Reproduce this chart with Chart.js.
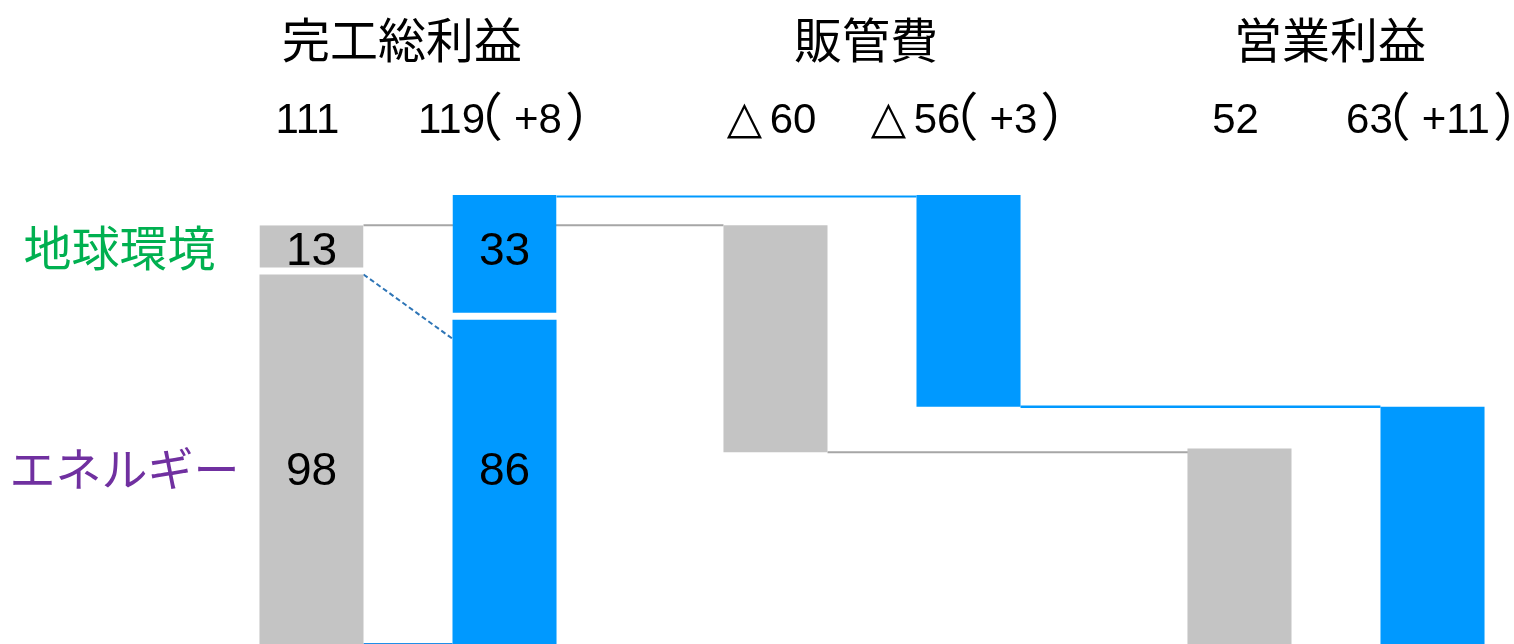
<!DOCTYPE html>
<html>
<head>
<meta charset="utf-8">
<script src="https://cdn.jsdelivr.net/npm/chart.js@4/dist/chart.umd.min.js"></script>
<style>
    html, body { margin: 0; padding: 0; background: #fff; overflow: hidden; }
    .wrap { width: 1568px; height: 645px; position: relative; }
</style>
</head>
<body>
<div class="wrap"><canvas id="myChart"></canvas></div>
<script>
'use strict';
// dane wykresu
var categories = ['完工総利益', '販管費', '営業利益'];
var prevLabels = ['111', '△60', '52'];
var curLabels = ['119（+8）', '△56（+3）', '63（+11）'];
var prevTotals = [111, -60, 52];
var curTotals = [119, -56, 63];
// [エネルギー, 地球環境]
var segmentNames = ['エネルギー', '地球環境'];
var prevSegments = [98, 13];
var curSegments = [86, 33];
// koniec przerywanej linii
var energyLinkEnd = 81;

(function () {
    var GRAY = '#c4c4c4';
    var BLUE = '#0099ff';
    var GAP = 7;

    // slupki plywajace [od, do]
    function lower(seg, totals) {
        return [[0, seg[0]], [totals[0] + totals[1], totals[0]], [0, totals[2]]];
    }
    function upper(seg) {
        return [[seg[0], seg[0] + seg[1]], null, null];
    }

    // znaki specjalne: czcionka, odstepy [przed, po], przesuniecie w pionie
    var NUM_FONT = '42px "Liberation Sans"';
    var SPECIAL = {
        '（': { font: '52px "Noto Sans CJK JP"', pad: [2, 13], dy: 3 },
        '）': { font: '52px "Noto Sans CJK JP"', pad: [5, 2], dy: 3 },
        '△': { font: 'bold 46px "DejaVu Sans"', pad: [0, 7], dy: 0 }
    };

    function drawLabel(ctx, text, cx, base) {
        ctx.save();
        ctx.textAlign = 'left';
        ctx.textBaseline = 'alphabetic';
        var pieces = [];
        var run = '';
        function flush() {
            if (run) {
                ctx.font = NUM_FONT;
                pieces.push({ t: run, font: NUM_FONT, w: ctx.measureText(run).width, dx: 0, dy: 0 });
                run = '';
            }
        }
        for (var i = 0; i < text.length; i++) {
            var ch = text[i];
            var sp = SPECIAL[ch];
            if (!sp) { run += ch; continue; }
            flush();
            ctx.font = sp.font;
            var m = ctx.measureText(ch);
            var ink = m.actualBoundingBoxLeft + m.actualBoundingBoxRight;
            pieces.push({ t: ch, font: sp.font, w: sp.pad[0] + ink + sp.pad[1], dx: sp.pad[0] + m.actualBoundingBoxLeft, dy: sp.dy });
        }
        flush();
        var total = pieces.reduce(function (s, p) { return s + p.w; }, 0);
        var x = cx - total / 2;
        pieces.forEach(function (p) {
            ctx.font = p.font;
            ctx.fillText(p.t, x + p.dx, base + p.dy);
            x += p.w;
        });
        ctx.restore();
    }

    var overlay = {
        id: 'overlay',
        beforeDatasetsDraw: function (chart) {
            var ctx = chart.ctx;
            var y = chart.scales.y;
            var p = chart.getDatasetMeta(0).data;
            var c = chart.getDatasetMeta(2).data;
            function R(el) { return el.x + el.width / 2; }
            function L(el) { return el.x - el.width / 2; }
            function line(x1, y1, x2, y2, color, w, dash) {
                ctx.save();
                ctx.strokeStyle = color;
                ctx.lineWidth = w;
                ctx.setLineDash(dash || []);
                ctx.beginPath();
                ctx.moveTo(x1, y1);
                ctx.lineTo(x2, y2);
                ctx.stroke();
                ctx.restore();
            }
            var t0 = y.getPixelForValue(prevTotals[0]);
            line(R(p[0]), t0, L(p[1]), t0, '#a6a6a6', 2);
            var t1 = y.getPixelForValue(curTotals[0]);
            line(R(c[0]), t1 + 1.5, L(c[1]), t1 + 1.5, BLUE, 2);
            var t2 = y.getPixelForValue(prevTotals[0] + prevTotals[1]);
            line(R(p[1]), t2, L(p[2]) + 10, t2, '#a6a6a6', 2);
            var t3 = y.getPixelForValue(curTotals[0] + curTotals[1]);
            line(R(c[1]), t3, L(c[2]), t3, BLUE, 2.5);
            line(R(p[0]), y.getPixelForValue(prevSegments[0]), L(c[0]), y.getPixelForValue(energyLinkEnd), '#2e75b6', 2, [5, 3]);
            var b = y.getPixelForValue(0) - 1;
            line(R(p[0]), b, L(c[0]), b, '#1f8fe8', 2);
        },
        afterDatasetsDraw: function (chart) {
            var ctx = chart.ctx;
            var xs = chart.scales.x;
            var p = chart.getDatasetMeta(0).data;
            var pu = chart.getDatasetMeta(1).data;
            var c = chart.getDatasetMeta(2).data;
            var cu = chart.getDatasetMeta(3).data;
            ctx.save();
            ctx.fillStyle = '#000';

            // wartosci w naglowku
            for (var i = 0; i < 3; i++) {
                drawLabel(ctx, prevLabels[i], p[i].x - 4, 133);
                drawLabel(ctx, curLabels[i], c[i].x - 4, 133);
            }

            // tytuly kolumn
            ctx.textAlign = 'center';
            ctx.font = '48px "Noto Sans CJK JP"';
            ctx.textBaseline = 'middle';
            categories.forEach(function (name, i) {
                ctx.fillText(name, xs.getPixelForValue(i) - 6, 40);
            });

            // etykiety segmentow
            var upRow = ((pu[0].y + pu[0].base - GAP) / 2 + (cu[0].y + cu[0].base - GAP) / 2) / 2;
            var lowRow = ((p[0].y + p[0].base) / 2 + (c[0].y + c[0].base) / 2) / 2;
            ctx.textBaseline = 'alphabetic';
            ctx.font = '46px "Liberation Sans"';
            ctx.fillText(String(prevSegments[1]), pu[0].x, upRow + 15);
            ctx.fillText(String(curSegments[1]), cu[0].x, upRow + 15);
            ctx.fillText(String(prevSegments[0]), p[0].x, lowRow + 14);
            ctx.fillText(String(curSegments[0]), c[0].x, lowRow + 14);

            // nazwy segmentow po lewej
            ctx.textBaseline = 'middle';
            var lx = p[0].x - p[0].width / 2 - 138;
            ctx.fillStyle = '#00b050';
            ctx.font = '48px "Noto Sans CJK JP"';
            ctx.fillText(segmentNames[1], lx - 2, upRow - 2);
            ctx.fillStyle = '#7030a0';
            ctx.font = '46px "Noto Sans CJK JP"';
            ctx.fillText(segmentNames[0], lx + 3, lowRow - 3);
            ctx.restore();
        }
    };

    var ctx = document.getElementById('myChart').getContext('2d');
    var chart = new Chart(ctx, {
        type: 'bar',
        data: {
            labels: categories,
            datasets: [{
                label: 'prev',
                stack: 'prev',
                backgroundColor: GRAY,
                borderWidth: 0,
                data: lower(prevSegments, prevTotals)
            },
            {
                label: 'prev-up',
                stack: 'prev',
                backgroundColor: GRAY,
                borderColor: '#fff',
                borderSkipped: false,
                borderWidth: { top: 0, left: 0, right: 0, bottom: GAP },
                data: upper(prevSegments)
            },
            {
                label: 'cur',
                stack: 'cur',
                backgroundColor: BLUE,
                borderWidth: 0,
                data: lower(curSegments, curTotals)
            },
            {
                label: 'cur-up',
                stack: 'cur',
                backgroundColor: BLUE,
                borderColor: '#fff',
                borderSkipped: false,
                borderWidth: { top: 0, left: 0, right: 0, bottom: GAP },
                data: upper(curSegments)
            }]
        },
        options: {
            responsive: true,
            maintainAspectRatio: false,
            animation: false,
            layout: { padding: { top: 40, left: 176, right: 0, bottom: 0 } },
            datasets: { bar: { categoryPercentage: 0.832, barPercentage: 0.539 } },
            plugins: { legend: { display: false }, tooltip: { enabled: false } },
            scales: {
                x: { display: false, stacked: true },
                y: { display: false, stacked: false, min: 0, max: 160 }
            }
        },
        plugins: [overlay]
    });
})();
</script>
</body>
</html>
